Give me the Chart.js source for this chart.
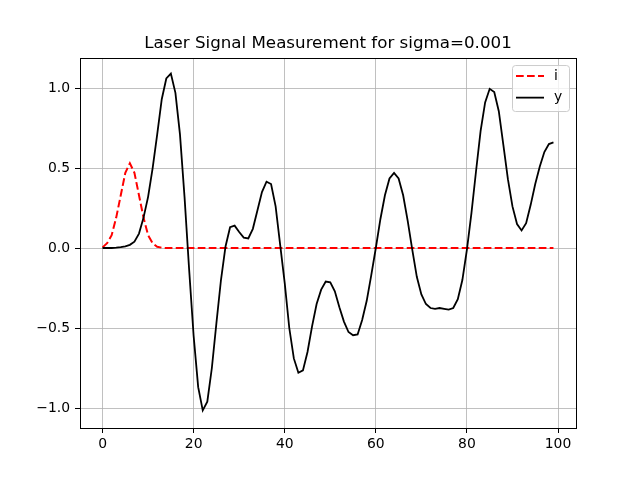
<!DOCTYPE html>
<html>
<head>
<meta charset="utf-8">
<script src="https://cdn.jsdelivr.net/npm/chart.js@4/dist/chart.umd.min.js"></script>
<style>
  html, body { margin: 0; padding: 0; background: #fff; }
  #wrap { width: 640px; height: 480px; }
</style>
</head>
<body>
<div id="wrap"><canvas id="chart" width="640" height="480"></canvas></div>
<script>
/* ── Data ────────────────────────────────────────────────────── */
const TITLE = 'Laser Signal Measurement for sigma=0.001';

const timeSteps = Array.from({ length: 100 }, (_, i) => i);

const inputPulse = [
    0.004, 0.03, 0.08, 0.19, 0.33, 0.47, 0.53, 0.47, 0.33, 0.19,
    0.08, 0.03, 0.008, 0.002, 0, 0, 0, 0, 0, 0,
    0, 0, 0, 0, 0, 0, 0, 0, 0, 0,
    0, 0, 0, 0, 0, 0, 0, 0, 0, 0,
    0, 0, 0, 0, 0, 0, 0, 0, 0, 0,
    0, 0, 0, 0, 0, 0, 0, 0, 0, 0,
    0, 0, 0, 0, 0, 0, 0, 0, 0, 0,
    0, 0, 0, 0, 0, 0, 0, 0, 0, 0,
    0, 0, 0, 0, 0, 0, 0, 0, 0, 0,
    0, 0, 0, 0, 0, 0, 0, 0, 0, 0,
];

const outputSignal = [
    0, 0, 0, 0.002, 0.005, 0.01, 0.02, 0.04, 0.09, 0.19,
    0.32, 0.5, 0.71, 0.93, 1.06, 1.09, 0.97, 0.71, 0.32, -0.13,
    -0.55, -0.87, -1.015, -0.96, -0.75, -0.47, -0.2, 0.01, 0.13, 0.14,
    0.10, 0.065, 0.06, 0.12, 0.235, 0.35, 0.415, 0.40, 0.26, 0.02,
    -0.22, -0.50, -0.69, -0.78, -0.765, -0.65, -0.49, -0.35, -0.26, -0.21,
    -0.215, -0.27, -0.37, -0.46, -0.525, -0.545, -0.54, -0.45, -0.33, -0.17,
    0.0, 0.18, 0.33, 0.435, 0.47, 0.435, 0.33, 0.17, -0.01, -0.18,
    -0.29, -0.35, -0.375, -0.38, -0.375, -0.38, -0.385, -0.375, -0.32, -0.2,
    -0.01, 0.22, 0.48, 0.73, 0.91, 0.995, 0.975, 0.855, 0.645, 0.43,
    0.26, 0.15, 0.11, 0.155, 0.27, 0.40, 0.51, 0.60, 0.65, 0.66,
];

const xTicks = [0, 20, 40, 60, 80, 100];
const yTicks = [-1.0, -0.5, 0.0, 0.5, 1.0];

/* ── Small helpers ───────────────────────────────────────────── */
const FONT = '"DejaVu Sans", "Liberation Sans", sans-serif';
const X_RANGE = { min: -4.95, max: 103.95 };
const Y_RANGE = { min: -1.125, max: 1.1875 };
const toPoints = ys => timeSteps.map((x, i) => ({ x, y: ys[i] }));
const fmt = v => v.toFixed(1).replace('-', '\u2212');

/* Bare axis that only draws its border line: used for the top and right spines */
const spine = (axis, position, range) => ({
    type: 'linear',
    axis,
    position,
    ...range,
    ticks: { display: false },
    grid: { display: false, drawTicks: false },
    border: { display: true, color: '#000', width: 1 },
    afterFit: s => { if (axis === 'x') s.height = 0; else s.width = 0; },
});

/* Centre the title over the axes (matplotlib) instead of the whole box */
const centreTitle = {
    id: 'centreTitle',
    afterLayout(chart) {
        const tb = chart.titleBlock, a = chart.chartArea;
        if (!tb) return;
        tb.left = a.left;
        tb.right = a.right;
        tb.width = a.right - a.left;
    },
};

/* matplotlib style legend box, top right inside the axes */
const boxLegend = {
    id: 'boxLegend',
    afterDraw(chart) {
        const { ctx, chartArea: a } = chart;
        const w = 57, h = 46;
        const x = a.right - 7 - w, y = a.top + 7;
        ctx.save();
        ctx.fillStyle = 'rgba(255,255,255,0.8)';
        ctx.strokeStyle = '#cccccc';
        ctx.lineWidth = 1;
        ctx.beginPath();
        ctx.roundRect(x + 0.5, y + 0.5, w, h, 3);
        ctx.fill();
        ctx.stroke();
        ctx.font = '13.9px ' + FONT;
        ctx.textBaseline = 'middle';
        chart.data.datasets.forEach((ds, i) => {
            const ly = y + 11 + i * 21.6;
            ctx.strokeStyle = ds.borderColor;
            ctx.lineWidth = ds.borderWidth;
            ctx.setLineDash(ds.borderDash || []);
            ctx.beginPath();
            ctx.moveTo(x + 4, ly);
            ctx.lineTo(x + 32, ly);
            ctx.stroke();
            ctx.setLineDash([]);
            ctx.fillStyle = '#000';
            ctx.fillText(ds.label, x + 42, ly);
        });
        ctx.restore();
    },
};

/* ── Chart ───────────────────────────────────────────────────── */
new Chart(document.getElementById('chart'), {
    type: 'line',
    data: {
        datasets: [
            {
                label: 'i',
                data: toPoints(inputPulse),
                borderColor: '#ff0000',
                borderWidth: 2,
                borderDash: [7.7, 3.3],
                pointRadius: 0,
                tension: 0,
                order: 1,
            },
            {
                label: 'y',
                data: toPoints(outputSignal),
                borderColor: '#000000',
                borderWidth: 1.8,
                pointRadius: 0,
                tension: 0,
                order: 0,
            },
        ],
    },
    options: {
        responsive: false,
        animation: false,
        layout: { padding: { left: 0, right: 64, top: 0, bottom: 0 } },
        plugins: {
            legend: { display: false },
            tooltip: { enabled: false },
            title: {
                display: true,
                text: TITLE,
                color: '#000',
                font: { family: FONT, size: 16.7, weight: 'normal' },
                padding: { top: 34, bottom: 4 },
            },
        },
        scales: {
            x: {
                type: 'linear',
                ...X_RANGE,
                afterBuildTicks: s => { s.ticks = xTicks.map(value => ({ value })); },
                afterFit: s => { s.height = 52; },
                ticks: {
                    color: '#000',
                    font: { family: FONT, size: 13.9 },
                    padding: 3,
                    maxRotation: 0,
                    autoSkip: false,
                    callback: v => String(v),
                },
                grid: { color: '#b0b0b0', lineWidth: 0.8, tickColor: '#000', tickLength: 5, tickWidth: 1 },
                border: { color: '#000', width: 1 },
            },
            y: {
                type: 'linear',
                ...Y_RANGE,
                afterBuildTicks: s => { s.ticks = yTicks.map(value => ({ value })); },
                afterFit: s => { s.width = 80; },
                ticks: {
                    color: '#000',
                    font: { family: FONT, size: 13.9 },
                    padding: 5,
                    autoSkip: false,
                    callback: v => fmt(v),
                },
                grid: { color: '#b0b0b0', lineWidth: 0.8, tickColor: '#000', tickLength: 5, tickWidth: 1 },
                border: { color: '#000', width: 1 },
            },
            xTop: spine('x', 'top', X_RANGE),
            yRight: spine('y', 'right', Y_RANGE),
        },
    },
    plugins: [centreTitle, boxLegend],
});
</script>
</body>
</html>
